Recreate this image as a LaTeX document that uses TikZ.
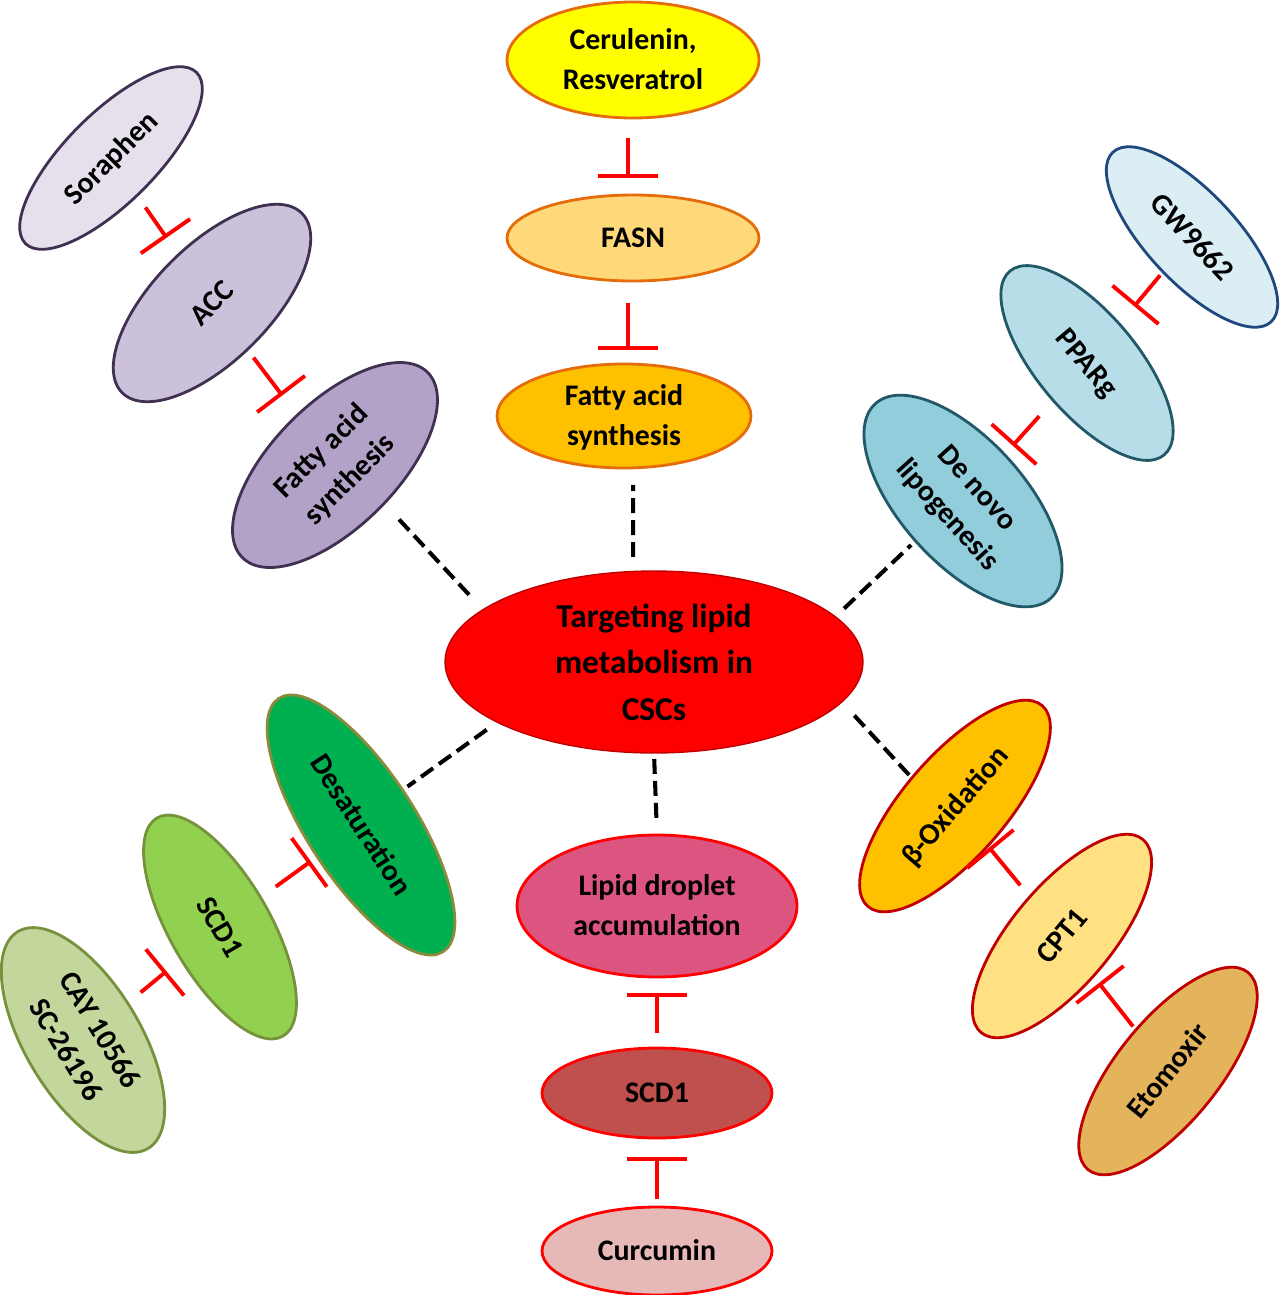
\documentclass[tikz,border=0pt]{standalone}
\usepackage{fontspec}
\setmainfont{Carlito}
\usetikzlibrary{shapes.geometric, arrows.meta, calc}
\definecolor{colHub}   {HTML}{FF0000}
\definecolor{colHubBdr}{HTML}{C00000}
\definecolor{colOrBdr} {HTML}{E46C0A}
\definecolor{colCer}   {HTML}{FFFF00}
\definecolor{colFasn}  {HTML}{FFD87A}
\definecolor{colFasO}  {HTML}{FFC000}
\definecolor{colPuBdr} {HTML}{403152}
\definecolor{colSor}   {HTML}{E5E0EC}
\definecolor{colAcc}   {HTML}{CCC1DA}
\definecolor{colFasP}  {HTML}{B3A2C7}
\definecolor{colGwBdr} {HTML}{1F497D}
\definecolor{colBlBdr} {HTML}{215968}
\definecolor{colGw}    {HTML}{DBEEF4}
\definecolor{colPpar}  {HTML}{B7DEE8}
\definecolor{colDnl}   {HTML}{92CDDC}
\definecolor{colDesBdr}{HTML}{8C8A3C}
\definecolor{colGrBdr} {HTML}{76923C}
\definecolor{colDes}   {HTML}{00B050}
\definecolor{colScdG}  {HTML}{92D050}
\definecolor{colCay}   {HTML}{C3D69B}
\definecolor{colLip}   {HTML}{DC5480}
\definecolor{colScdR}  {HTML}{C0504D}
\definecolor{colCur}   {HTML}{E6B9B8}
\definecolor{colBox}   {HTML}{FFC000}
\definecolor{colCpt}   {HTML}{FFE082}
\definecolor{colEto}   {HTML}{E4B45C}
\newcommand{\ovtext}[1]{\smash{\makebox[0pt]{\raisebox{-0.3em}{\begin{tabular}{@{}c@{}}#1\end{tabular}}}}}

\begin{document}
\begin{tikzpicture}[x=0.02cm, y=-0.02cm,
		font=\fontsize{17}{22.8}\selectfont\bfseries,
		blob/.style={ellipse, draw, line width=1.6pt, inner sep=0pt, outer sep=0pt},
		inhib/.style={draw=red, line width=2.2pt, -{Bar[width=1.2cm]}},
		link/.style={draw=black, line width=2.3pt, dash pattern=on 8.5pt off 4pt}]
				\useasboundingbox (0,0) rectangle (1280,1295);
				\node[blob, fill=colHub, draw=colHubBdr, line width=0.8pt, minimum width=8.36cm, minimum height=3.64cm,
				font=\fontsize{19}{26.5}\selectfont\bfseries] (hub) at (654,662)
				{\ovtext{Targeting lipid\\metabolism in\\CSCs}};
				\node[blob, fill=colCer, draw=colOrBdr, minimum width=5.04cm, minimum height=2.32cm] (cer) at (633,60)
				{\ovtext{Cerulenin,\\Resveratrol}};
				\node[blob, fill=colFasn, draw=colOrBdr, minimum width=5.04cm, minimum height=1.72cm] (fasn) at (633,238)
				{\ovtext{FASN}};
				\node[blob, fill=colFasO, draw=colOrBdr, minimum width=5.08cm, minimum height=2.08cm] (fasO) at (624,416)
				{\ovtext{Fatty acid\\synthesis}};
				\node[blob, fill=colSor, draw=colPuBdr, minimum width=4.84cm, minimum height=1.8cm, rotate=45] (sor) at (111,158)
				{\ovtext{Soraphen}};
				\node[blob, fill=colAcc, draw=colPuBdr, minimum width=5.08cm, minimum height=2.32cm, rotate=45] (acc) at (212,303)
				{\ovtext{ACC}};
				\node[blob, fill=colFasP, draw=colPuBdr, minimum width=5.24cm, minimum height=2.48cm, rotate=45] (fasP) at (335,465)
				{\ovtext{Fatty acid\\synthesis}};
				\node[blob, fill=colGw, draw=colGwBdr, minimum width=4.64cm, minimum height=1.8cm, rotate=-47] (gw) at (1192,237)
				{\ovtext{GW9662}};
				\node[blob, fill=colPpar, draw=colBlBdr, minimum width=4.8cm, minimum height=2.0cm, rotate=-50] (ppar) at (1087,363)
				{\ovtext{PPARg}};
				\node[blob, fill=colDnl, draw=colBlBdr, minimum width=5.24cm, minimum height=2.48cm, rotate=-48] (dnl) at (963,501)
				{\ovtext{De novo\\lipogenesis}};
				\node[blob, fill=colDes, draw=colDesBdr, minimum width=6.04cm, minimum height=2.16cm, rotate=-57] (desat) at (361,825)
				{\ovtext{Desaturation}};
				\node[blob, fill=colScdG, draw=colGrBdr, minimum width=5.04cm, minimum height=2.0cm, rotate=-60] (scdG) at (220,927)
				{\ovtext{SCD1}};
				\node[blob, fill=colCay, draw=colGrBdr, minimum width=5.06cm, minimum height=2.3cm, rotate=-59] (cay) at (83,1040)
				{\ovtext{CAY 10566\\SC-26196}};
				\node[blob, fill=colLip, draw=red, minimum width=5.6cm, minimum height=2.84cm] (lipid) at (657,906)
				{\ovtext{Lipid droplet\\accumulation}};
				\node[blob, fill=colScdR, draw=red, minimum width=4.6cm, minimum height=1.8cm] (scdR) at (657,1093)
				{\ovtext{SCD1}};
				\node[blob, fill=colCur, draw=red, minimum width=4.6cm, minimum height=1.76cm] (cur) at (657,1251)
				{\ovtext{Curcumin}};
				\node[blob, fill=colBox, draw=colHubBdr, minimum width=5.32cm, minimum height=2.04cm, rotate=49] (box) at (955,806)
				{\ovtext{β-Oxidation}};
				\node[blob, fill=colCpt, draw=colHubBdr, minimum width=5.04cm, minimum height=2.0cm, rotate=50] (cpt) at (1062,936)
				{\ovtext{CPT1}};
				\node[blob, fill=colEto, draw=colHubBdr, minimum width=5.08cm, minimum height=2.04cm, rotate=51] (eto) at (1168,1071)
				{\ovtext{Etomoxir}};
				\draw[inhib] ([xshift=-0.1cm, yshift=-0.4cm]cer.south) -- ([xshift=-0.1cm, yshift=-1.2cm]cer.south);
				\draw[inhib] ([xshift=-0.1cm, yshift=-0.44cm]fasn.south) -- ([xshift=-0.1cm, yshift=-1.38cm]fasn.south);
				\draw[inhib] ($(sor)!0.341!(acc)$) -- ($(sor)!0.55!(acc)$);
				\draw[inhib] ($(acc)!0.337!(fasP)$) -- ($(acc)!0.571!(fasP)$);
				\draw[inhib] ($(gw)!0.304!(ppar)$) -- ($(gw)!0.55!(ppar)$);
				\draw[inhib] ($(ppar)!0.385!(dnl)$) -- ($(ppar)!0.599!(dnl)$);
				\draw[inhib] ($(scdG)!0.396!(desat)$) -- ($(scdG)!0.644!(desat)$);
				\draw[inhib] ($(cay)!0.421!(scdG)$) -- ($(cay)!0.609!(scdG)$);
				\draw[inhib] ($(scdR)!0.321!(lipid)$) -- ($(scdR)!0.535!(lipid)$);
				\draw[inhib] ($(cur)!0.329!(scdR)$) -- ($(cur)!0.595!(scdR)$);
				\draw[inhib] ($(cpt)!0.39!(box)$) -- ($(cpt)!0.681!(box)$);
				\draw[inhib] ($(eto)!0.33!(cpt)$) -- ($(eto)!0.652!(cpt)$);
				\draw[link, shorten <=0.41cm, shorten >=0.3cm] (hub.163) -- (fasP.-83.5);
				\draw[link, shorten <=0.29cm, shorten >=0.34cm] (hub.103) -- (fasO.-80);
				\draw[link, shorten <=0.24cm, shorten >=0.12cm] (hub.14.7) -- (dnl.-92);
				\draw[link, shorten <=0.26cm, shorten >=0.12cm] (hub.-159.5) -- (desat.97.7);
				\draw[link, shorten <=0.12cm, shorten >=0.3cm] (hub.-90) -- (lipid.90);
				\draw[link, shorten <=0.37cm, shorten >=0.05cm] (hub.-12) -- (box.98.5);
		\end{tikzpicture}
\end{document}
